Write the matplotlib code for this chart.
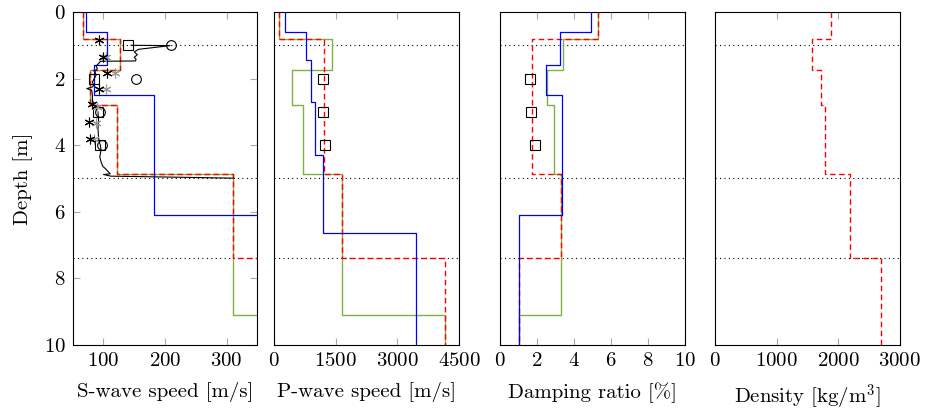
import matplotlib.pyplot as plt

plt.rcParams["font.family"] = "cmr10"
plt.rcParams["mathtext.fontset"] = "cm"
plt.rcParams["axes.formatter.use_mathtext"] = True

# layer profiles: depth of layer tops, value per layer (step plots)
# "red" model (dashed), "green" model, "blue" model
red_depth = [0, 0.8, 1.75, 2.8, 4.85, 7.4, 10]
green_depth = [0, 0.8, 1.75, 2.8, 4.85, 9.1, 10]
blue_depth_vs = [0, 0.6, 1.6, 2.5, 6.1, 10]
blue_depth_vp = [0, 0.6, 1.45, 2.7, 4.3, 6.65, 10]

vs_red = [67, 127, 78, 122, 311, 420]
vs_green = [67, 127, 78, 122, 311, 420]
vs_blue = [72, 105, 85, 182, 420]

vp_red = [115, 1200, 1200, 1200, 1650, 4160]
vp_green = [115, 1400, 430, 705, 1650, 4160]
vp_blue = [270, 765, 895, 990, 1195, 3460]

damp_red = [5.3, 1.72, 1.72, 1.72, 3.28, 1.0]
damp_green = [5.3, 3.4, 2.55, 2.9, 3.28, 1.0]
damp_blue = [4.95, 3.22, 2.48, 3.33, 1.0]

rho_red = [1880, 1575, 1720, 1785, 2200, 2700]

# measured S-wave profile (black line)
meas_vs = [145, 208, 185, 157, 150, 155, 150, 153, 152, 95, 92, 88, 90, 86, 88, 85,
           82, 84, 82, 73, 81, 82, 82, 85, 88, 91, 92, 91, 92, 93, 95, 96, 94, 96,
           99, 103, 108, 111, 100, 112, 250, 312]
meas_depth = [1.0, 1.01, 1.06, 1.12, 1.2, 1.28, 1.36, 1.42, 1.47, 1.48, 1.55, 1.62,
              1.7, 1.78, 1.9, 2.0, 2.1, 2.2, 2.25, 2.3, 2.35, 2.5, 2.65, 2.8, 2.9,
              3.0, 3.25, 3.5, 3.75, 3.9, 4.0, 4.15, 4.35, 4.5, 4.64, 4.7, 4.8, 4.86,
              4.88, 4.93, 4.97, 4.99]

# point estimates
sq_depth = [1.0, 2.0, 3.0, 4.0]
sq_vs = [140, 84, 91, 95]
circ_depth = [1.0, 2.0, 3.0, 4.0]
circ_vs = [209, 152, 94, 97]
star_depth = [0.84, 1.36, 1.84, 2.31, 2.77, 3.31, 3.82]
star_vs = [93, 99, 105, 93, 81, 76, 78]
gstar_depth = [1.36, 1.84, 2.31, 2.84, 3.33, 3.82]
gstar_vs = [104, 118, 104, 89, 88, 84]

sq3_depth = [2.0, 3.0, 4.0]
sq_vp = [1195, 1195, 1235]
sq_damp = [1.61, 1.65, 1.87]

interfaces = [1.0, 5.0, 7.4]

RED = "#ff0000"
GREEN = "#7fb241"
BLUE = "#0000ff"
FS = 15


def step(ax, tops, vals, **kw):
    xs, ys = [], []
    for i, v in enumerate(vals):
        xs += [v, v]
        ys += [tops[i], tops[i + 1]]
    ax.plot(xs, ys, **kw)


fig = plt.figure(figsize=(9.26, 4.11), dpi=100)
lefts = [0.0785, 0.2962, 0.54, 0.7721]
axes = [fig.add_axes([l, 0.1606, 0.1995, 0.8102]) for l in lefts]

ast = (6, 2, 0)

# S-wave
ax = axes[0]
step(ax, green_depth, vs_green, color=GREEN, lw=1.0)
step(ax, red_depth, vs_red, color=RED, lw=1.0, dashes=(4, 2.5))
step(ax, blue_depth_vs, vs_blue, color=BLUE, lw=0.9)
ax.plot(meas_vs, meas_depth, color="black", lw=0.8)
ax.plot(sq_vs, sq_depth, ls="none", marker="s", ms=7, mfc="none", mec="black", mew=0.8)
ax.plot(circ_vs, circ_depth, ls="none", marker="o", ms=7, mfc="none", mec="black", mew=0.8)
ax.plot(gstar_vs, gstar_depth, ls="none", marker=ast, ms=7, color="#999999", mew=0.8)
ax.plot(star_vs, star_depth, ls="none", marker=ast, ms=7, color="black", mew=0.8)
ax.set_xlim(50, 350)
ax.set_xticks([100, 200, 300])
ax.set_xlabel("S-wave speed [m/s]")
ax.set_ylabel("Depth [m]", fontsize=FS, labelpad=8)

# P-wave
ax = axes[1]
step(ax, green_depth, vp_green, color=GREEN, lw=1.0)
step(ax, red_depth, vp_red, color=RED, lw=1.0, dashes=(4, 2.5))
step(ax, blue_depth_vp, vp_blue, color=BLUE, lw=0.9)
ax.plot(sq_vp, sq3_depth, ls="none", marker="s", ms=7, mfc="none", mec="black", mew=0.8)
ax.set_xlim(0, 4500)
ax.set_xticks([0, 1500, 3000, 4500])
ax.set_xlabel("P-wave speed [m/s]")

# damping
ax = axes[2]
step(ax, green_depth, damp_green, color=GREEN, lw=1.0)
step(ax, red_depth, damp_red, color=RED, lw=1.0, dashes=(4, 2.5))
step(ax, blue_depth_vs, damp_blue, color=BLUE, lw=0.9)
ax.plot(sq_damp, sq3_depth, ls="none", marker="s", ms=7, mfc="none", mec="black", mew=0.8)
ax.set_xlim(0, 10)
ax.set_xticks([0, 2, 4, 6, 8, 10])
ax.set_xlabel("Damping ratio [%]")

# density
ax = axes[3]
step(ax, red_depth, rho_red, color=RED, lw=1.0, dashes=(4, 2.5))
ax.set_xlim(0, 3000)
ax.set_xticks([0, 1000, 2000, 3000])
ax.set_xlabel("Density [kg/m$^3$]")

for i, ax in enumerate(axes):
    for d in interfaces:
        ax.axhline(d, color="black", lw=0.8, ls=(0, (1, 3)), zorder=0)
    ax.set_ylim(10, 0)
    ax.tick_params(direction="in", top=True, right=(i == 0), length=5,
                   color="#aaaaaa", labelsize=FS, pad=5)
    if i == 0:
        ax.set_yticks([0, 2, 4, 6, 8, 10])
    else:
        ax.set_yticks([])
    ax.xaxis.label.set_size(FS)
    ax.xaxis.labelpad = 9
    for s in ax.spines.values():
        s.set_linewidth(0.8)

fig.savefig("out.png", dpi=100)
